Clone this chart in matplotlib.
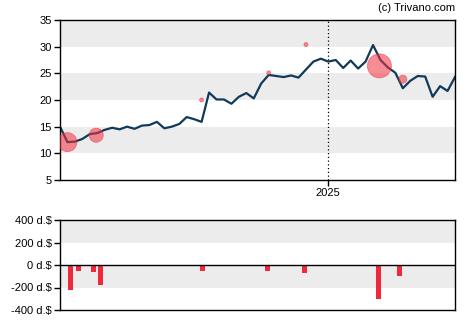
import numpy as np
import pandas as pd
import matplotlib
matplotlib.use("Agg")
import matplotlib.pyplot as plt
import matplotlib.dates as mdates

plt.rcParams['font.family'] = ['Liberation Sans', 'DejaVu Sans']

# weekly closing prices
price_start = "2024-04-24"
prices = [15.0, 12.1, 12.2, 12.7, 13.6, 13.8, 14.4, 14.8, 14.5, 15.0,
          14.6, 15.2, 15.3, 15.9, 14.7, 15.0, 15.5, 16.8, 16.4, 15.9,
          21.4, 20.1, 20.1, 19.3, 20.6, 21.3, 20.3, 23.1, 24.7, 24.5,
          24.3, 24.6, 24.2, 25.7, 27.2, 27.75, 27.2, 27.5, 26.0, 27.4,
          25.9, 27.2, 30.3, 27.5, 26.1, 25.1, 22.2, 23.6, 24.5, 24.4,
          20.6, 22.6, 21.7, 24.3]

# insider trades shown as bubbles on the price chart
trade_dates = ["2024-05-01", "2024-05-28", "2024-09-04", "2024-11-06",
               "2024-12-11", "2025-02-18", "2025-03-12"]
trade_prices = [12.1, 13.4, 20.0, 25.1, 30.4, 26.4, 23.9]
trade_sizes = [360, 200, 16, 16, 16, 576, 64]

# net insider flow (d.$)
flow_dates = ["2024-05-04", "2024-05-11", "2024-05-25", "2024-06-01",
              "2024-09-05", "2024-11-05", "2024-12-10", "2025-02-17",
              "2025-03-09"]
flow_values = [-226, -57, -66, -175, -57, -57, -68, -300, -95]

price_dates = pd.date_range(price_start, periods=len(prices), freq="7D")
trade_dates = pd.to_datetime(trade_dates)
flow_dates = pd.to_datetime(flow_dates)
x_min = pd.Timestamp("2024-04-24")
x_max = pd.Timestamp("2025-04-30")

fig = plt.figure(figsize=(4.7, 3.25), dpi=100)
ax = fig.add_axes([60 / 470, 1 - 180 / 325, 395 / 470, 160 / 325])
ax2 = fig.add_axes([60 / 470, 1 - 310 / 325, 395 / 470, 90 / 325])

band = "#ececec"
for lo in (10, 20, 30):
    ax.axhspan(lo, lo + 5, color=band, lw=0, zorder=0)
for lo in (-200, 200):
    ax2.axhspan(lo, lo + 200, color=band, lw=0, zorder=0)

ax.axvline(pd.Timestamp("2025-01-01"), color="black", ls=(0, (1, 2)), lw=0.9, zorder=1)
ax.plot(price_dates, prices, color="#0f3a5a", lw=1.6, zorder=2)
# diameter in px ~ sqrt(size); convert to points^2
diam_pt = np.sqrt(trade_sizes) * 0.72
ax.scatter(trade_dates, trade_prices, s=diam_pt ** 2, color="#f0303f",
           alpha=0.55, lw=0.6, edgecolors="#f0303f", zorder=3)

ax.set_xlim(x_min, x_max)
ax.set_ylim(5, 35)
ax.set_yticks(range(5, 36, 5))
ax.set_xticks([pd.Timestamp("2025-01-01")])
ax.xaxis.set_major_formatter(mdates.DateFormatter("%Y"))

ax2.bar(flow_dates, flow_values, width=4.7, color="#f0283c", zorder=2)
ax2.axhline(0, color="black", lw=1.0, zorder=3)
ax2.set_xlim(x_min, x_max)
ax2.set_ylim(-400, 400)
ax2.set_yticks([400, 200, 0, -200, -400])
ax2.set_yticklabels(["400 d.$", "200 d.$", "0 d.$", "-200 d.$", "-400 d.$"])
ax2.set_xticks([])

for a in (ax, ax2):
    for s in a.spines.values():
        s.set_linewidth(1.0)
        s.set_color("black")
    a.tick_params(axis="both", labelsize=8, length=4, width=1.0, pad=2, colors="black")

fig.text(455 / 470, 1 - 8 / 325, "(c) Trivano.com", ha="right", va="center", fontsize=8)

fig.savefig("out.png", dpi=100)
